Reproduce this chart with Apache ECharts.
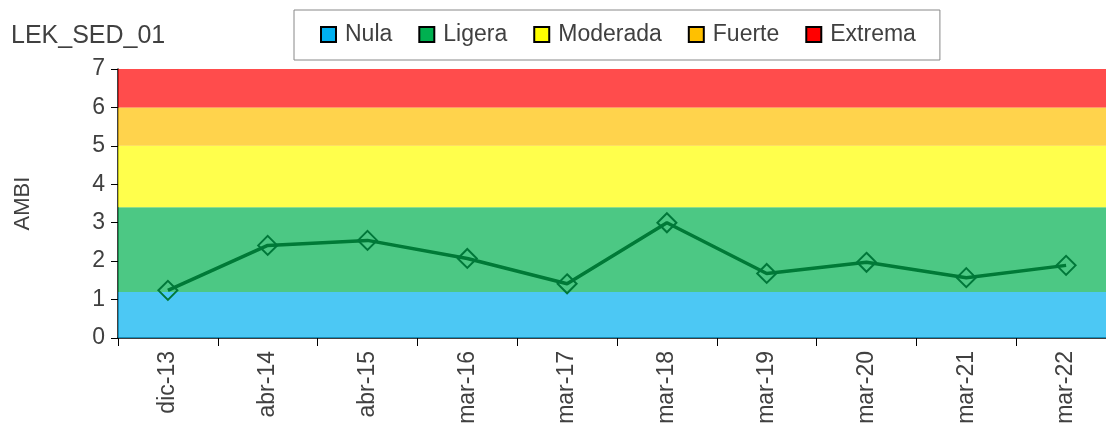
<!DOCTYPE html>
<html>
<head>
<meta charset="utf-8">
<script src="https://cdn.jsdelivr.net/npm/echarts@6/dist/echarts.min.js"></script>
<style>
  html, body { margin: 0; padding: 0; background: #fff; }
  #chart { width: 1106px; height: 427px; }
</style>
</head>
<body>
<div id="chart"></div>
<script>
const campaigns = ["dic-13", "abr-14", "abr-15", "mar-16", "mar-17", "mar-18", "mar-19", "mar-20", "mar-21", "mar-22"];
const ambi = [1.24, 2.41, 2.54, 2.07, 1.41, 3.0, 1.68, 1.97, 1.57, 1.89];

// estado ecologico: nombre, limite inferior, limite superior, color
const band_names = ["Nula", "Ligera", "Moderada", "Fuerte", "Extrema"];
const band_limits = [0, 1.2, 3.4, 5, 6, 7];
const band_colors = ["#00B0F0", "#00B050", "#FFFF00", "#FFC000", "#FF0000"];
const band_fills = ["rgba(0,176,240,0.7)", "rgba(0,176,80,0.7)", "rgba(255,255,0,0.7)", "rgba(255,192,0,0.7)", "rgba(255,0,0,0.7)"];

const font = "Liberation Sans";
const txt = "#404040";

const bandSeries = band_names.map(function (name, i) {
  return {
    name: name,
    type: "line",
    data: [],
    silent: true,
    itemStyle: { color: band_colors[i] },
    markArea: {
      silent: true,
      itemStyle: { color: band_fills[i] },
      data: [[{ yAxis: band_limits[i] }, { yAxis: band_limits[i + 1] }]],
    },
  };
});

const chart = echarts.init(document.getElementById("chart"));
chart.setOption({
  animation: false,
  title: {
    text: "LEK_SED_01",
    left: 6,
    top: 19,
    textStyle: { fontFamily: font, fontSize: 25, fontWeight: "normal", color: txt },
  },
  legend: {
    data: band_names,
    left: 294,
    top: 10,
    padding: [13, 24, 14, 26],
    borderColor: "#888",
    borderWidth: 1,
    icon: "rect",
    itemWidth: 15,
    itemHeight: 15,
    itemGap: 26,
    itemStyle: { borderColor: "#000", borderWidth: 2 },
    textStyle: { fontFamily: font, fontSize: 23, color: txt, padding: [0, 0, 0, 4] },
  },
  grid: { left: 118, top: 69, width: 998, bottom: 89, outerBoundsMode: "none" },
  xAxis: {
    type: "category",
    data: campaigns,
    boundaryGap: true,
    axisLine: { lineStyle: { color: "#000", width: 1.5 } },
    axisTick: { show: true, length: 8, interval: 0, lineStyle: { color: "#000" } },
    axisLabel: {
      rotate: 90,
      interval: 0,
      margin: 13,
      fontFamily: font,
      fontSize: 23,
      color: txt,
    },
  },
  yAxis: {
    type: "value",
    min: 0,
    max: 7,
    interval: 1,
    name: "AMBI",
    nameLocation: "middle",
    nameGap: 84,
    nameRotate: 90,
    nameTextStyle: { fontFamily: font, fontSize: 22, color: txt },
    splitLine: { show: false },
    axisLine: { show: true, lineStyle: { color: "#000", width: 1.5 } },
    axisTick: { show: true, length: 7, lineStyle: { color: "#000" } },
    axisLabel: { fontFamily: font, fontSize: 23, color: txt, margin: 13 },
  },
  series: bandSeries.concat([
    {
      name: "AMBI",
      type: "line",
      data: ambi,
      z: 5,
      symbol: "diamond",
      symbolSize: 19,
      lineStyle: { color: "#007A37", width: 3.5 },
      itemStyle: { color: "rgba(0,0,0,0)", borderColor: "#00783A", borderWidth: 2 },
    },
  ]),
});
</script>
</body>
</html>
